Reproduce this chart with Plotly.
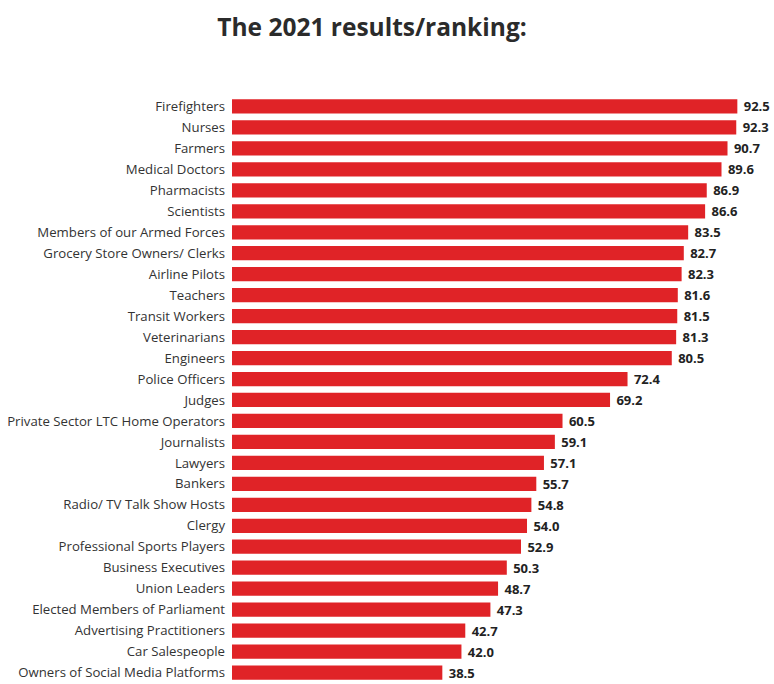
import plotly.graph_objects as go

professions = [
    "Firefighters", "Nurses", "Farmers", "Medical Doctors", "Pharmacists",
    "Scientists", "Members of our Armed Forces", "Grocery Store Owners/ Clerks",
    "Airline Pilots", "Teachers", "Transit Workers", "Veterinarians",
    "Engineers", "Police Officers", "Judges", "Private Sector LTC Home Operators",
    "Journalists", "Lawyers", "Bankers", "Radio/ TV Talk Show Hosts", "Clergy",
    "Professional Sports Players", "Business Executives", "Union Leaders",
    "Elected Members of Parliament", "Advertising Practitioners",
    "Car Salespeople", "Owners of Social Media Platforms",
]
scores = [
    92.5, 92.3, 90.7, 89.6, 86.9, 86.6, 83.5, 82.7, 82.3, 81.6, 81.5, 81.3,
    80.5, 72.4, 69.2, 60.5, 59.1, 57.1, 55.7, 54.8, 54.0, 52.9, 50.3, 48.7,
    47.3, 42.7, 42.0, 38.5,
]

fig = go.Figure(go.Bar(
    x=scores,
    y=professions,
    orientation="h",
    marker=dict(color="#e02327", line=dict(width=0)),
    text=[f"{v:.1f}" for v in scores],
    texttemplate=" %{text}",
    textposition="outside",
    constraintext="none",
    cliponaxis=False,
    textfont=dict(family="Open Sans", size=13, color="#222222", weight="bold"),
    hoverinfo="skip",
))

fig.update_layout(
    width=774,
    height=684,
    paper_bgcolor="white",
    plot_bgcolor="white",
    margin=dict(l=232, r=23, t=96, b=1, autoexpand=False),
    bargap=0.32,
    showlegend=False,
    title=dict(
        text="<b>The 2021 results/ranking:</b>",
        x=372 / 774, xref="container", xanchor="center",
        y=1 - 27 / 684, yref="container", yanchor="middle",
        font=dict(family="Open Sans", size=24.5, color="#2b2b2b"),
    ),
    xaxis=dict(range=[0, 95], visible=False, fixedrange=True),
    yaxis=dict(
        autorange="reversed",
        automargin=False,
        showgrid=False, zeroline=False, showline=False,
        ticks="", ticklabelstandoff=6,
        tickfont=dict(family="Open Sans", size=13.2, color="#333333"),
        fixedrange=True,
    ),
)

# plotly's page keeps the browser's 8px body margin; drop it
fig.write_html(
    "out.html",
    config={"displayModeBar": False},
    post_script="document.body.style.margin='0px';",
)
